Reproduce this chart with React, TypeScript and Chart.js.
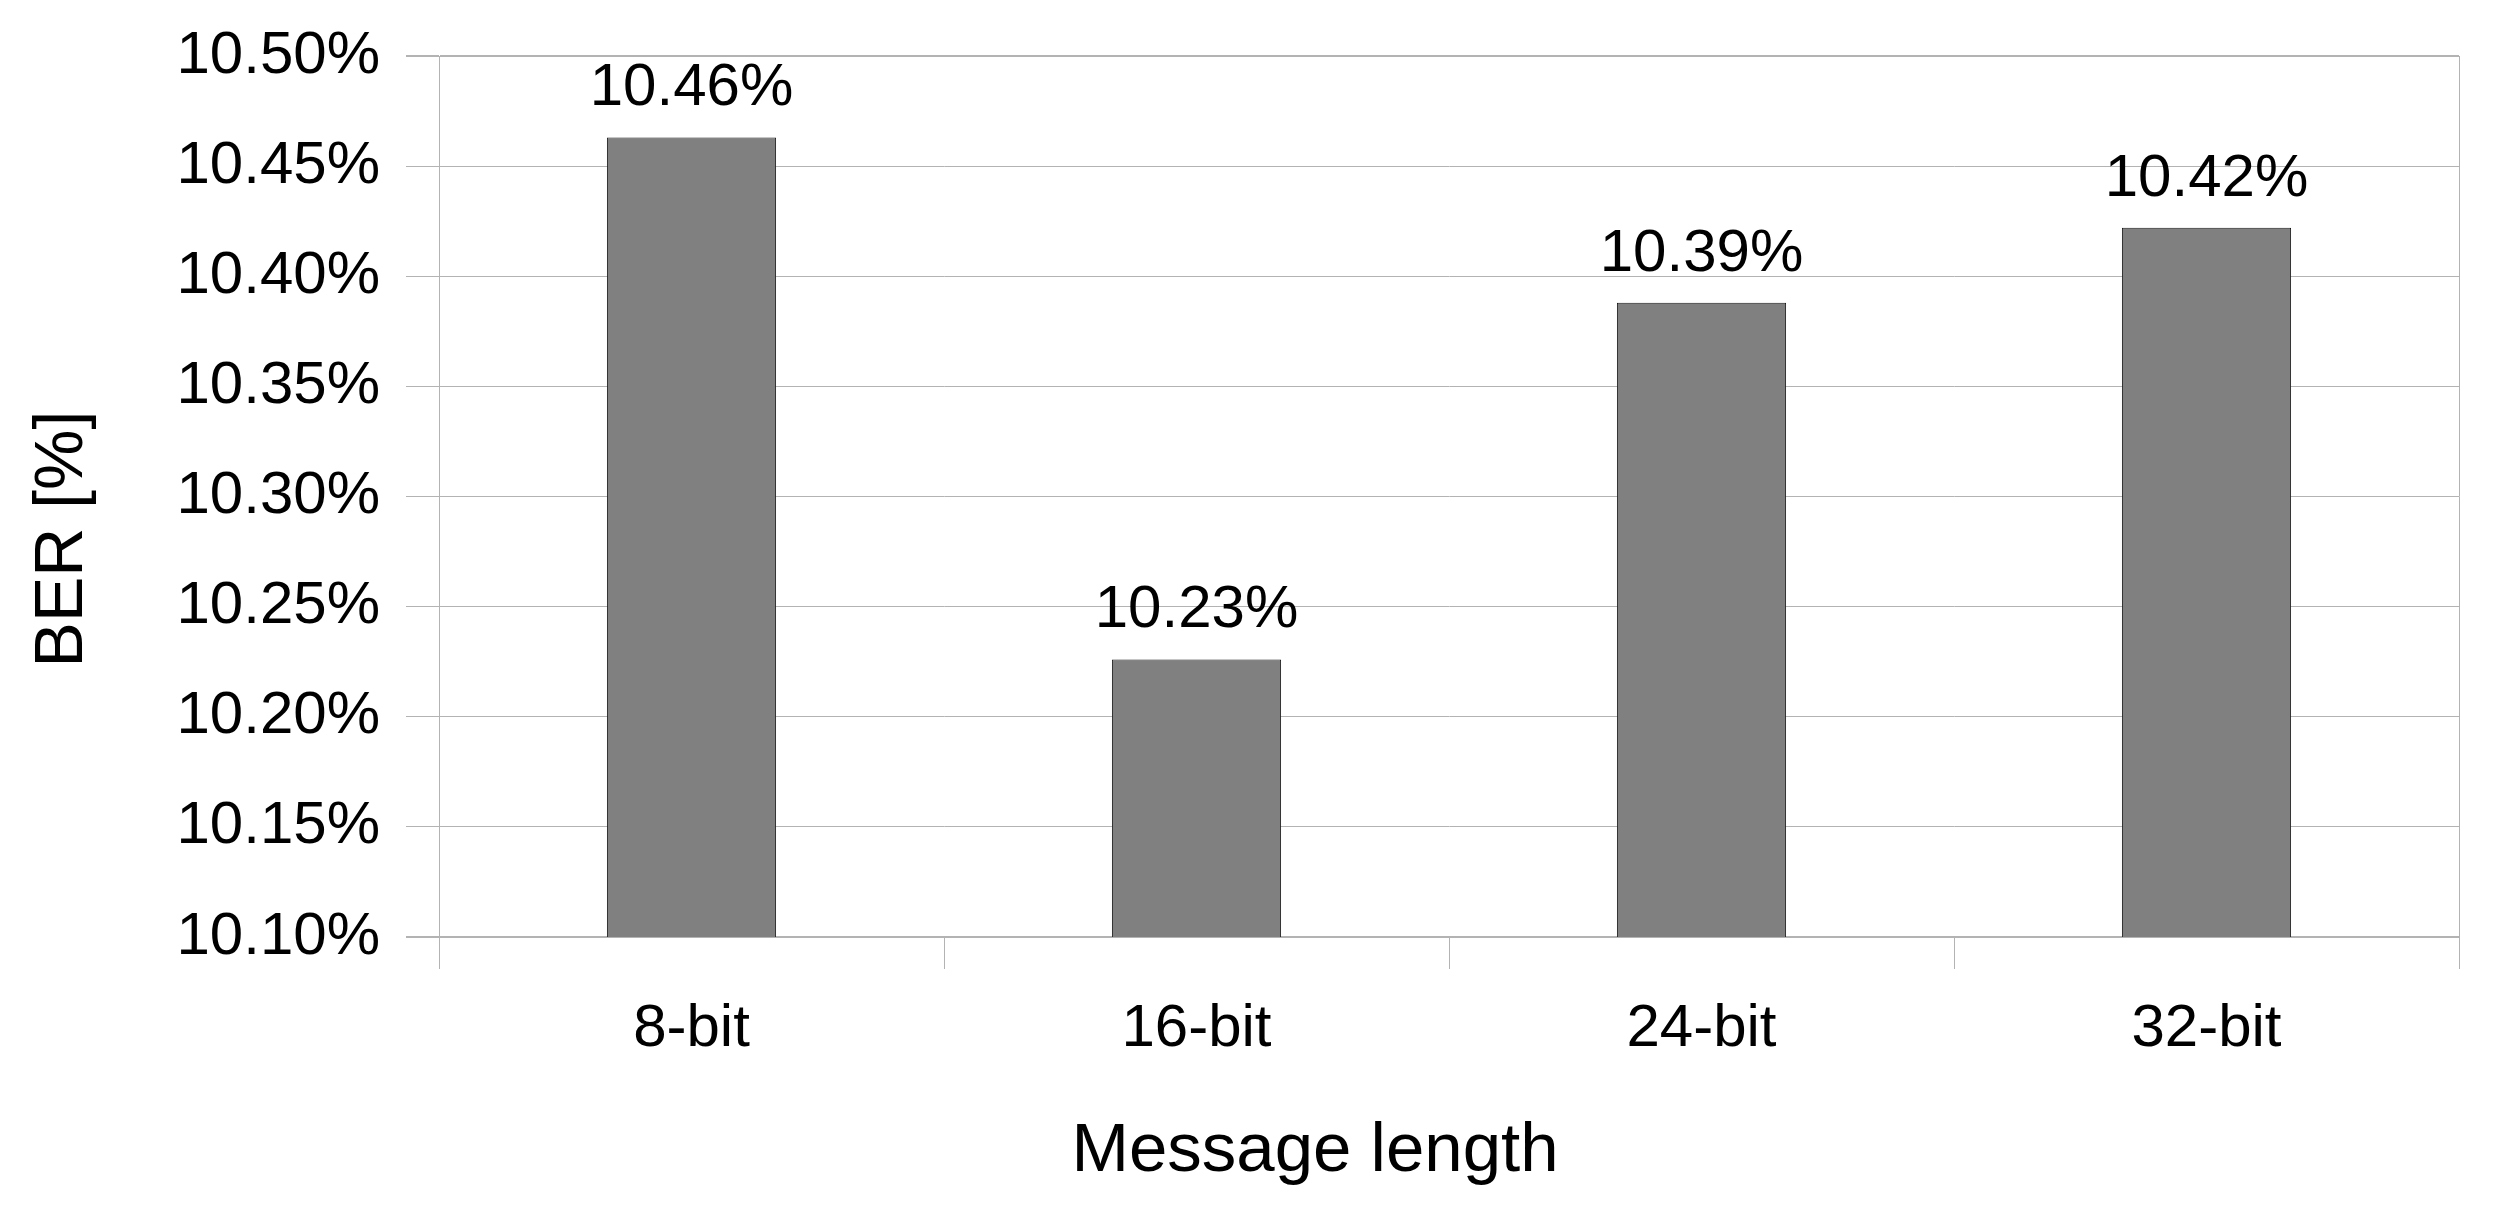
import React, { useEffect, useRef } from "react";
import { Chart, registerables } from "chart.js";

Chart.register(...registerables);

const categories = ["8-bit", "16-bit", "24-bit", "32-bit"];
const berValues = [10.463, 10.226, 10.388, 10.422];
const yMin = 10.1;
const yMax = 10.5;
const yStep = 0.05;
const xTitle = "Message length";
const yTitle = "BER [%]";

const FONT = "'Liberation Sans', Arial, sans-serif";
const GRID = "#b3b3b3";

const W = 2502;
const H = 1210;

export default function App() {
  const ref = useRef<HTMLCanvasElement | null>(null);

  useEffect(() => {
    if (!ref.current) return;

    const labelsPlugin = {
      id: "extras",
      afterDatasetsDraw(chart: any) {
        const ctx = chart.ctx;
        const meta = chart.getDatasetMeta(0);
        ctx.save();
        ctx.fillStyle = "#000";
        ctx.font = `60px ${FONT}`;
        ctx.textAlign = "center";
        ctx.textBaseline = "alphabetic";
        meta.data.forEach((bar: any, i: number) => {
          const v = chart.data.datasets[0].data[i] as number;
          ctx.fillText(v.toFixed(2) + "%", bar.x, bar.y - 32);
        });
        ctx.restore();
      },
      afterDraw(chart: any) {
        const ctx = chart.ctx;
        const a = chart.chartArea;
        ctx.save();
        // right border of plot
        ctx.strokeStyle = GRID;
        ctx.lineWidth = 1;
        ctx.beginPath();
        ctx.moveTo(Math.round(a.right) + 0.5, a.top);
        ctx.lineTo(Math.round(a.right) + 0.5, a.bottom);
        ctx.stroke();
        // axis titles
        ctx.fillStyle = "#000";
        ctx.font = `69px ${FONT}`;
        ctx.textAlign = "center";
        ctx.textBaseline = "alphabetic";
        ctx.fillText(xTitle, 1315, 1171);
        ctx.translate(82, 539);
        ctx.rotate(-Math.PI / 2);
        ctx.font = `68px ${FONT}`;
        ctx.fillText(yTitle, 0, 0);
        ctx.restore();
      },
    };

    const lastY = Math.round((yMax - yMin) / yStep);

    const chart = new Chart(ref.current, {
      type: "bar",
      data: {
        labels: categories,
        datasets: [
          {
            data: berValues,
            backgroundColor: "#808080",
            borderColor: "#1a1a1a",
            borderWidth: 1,
            borderSkipped: false,
            categoryPercentage: 1,
            barPercentage: 0.335,
          },
        ],
      },
      options: {
        responsive: false,
        animation: false,
        devicePixelRatio: 1,
        layout: { padding: { top: 56, right: 43, left: 0, bottom: 0 } },
        plugins: {
          legend: { display: false },
          tooltip: { enabled: false },
          title: { display: false },
        },
        scales: {
          x: {
            afterFit(scale: any) {
              scale.height = 273;
            },
            grid: {
              offset: true,
              drawOnChartArea: false,
              drawTicks: true,
              tickLength: 32,
              color: GRID,
              tickColor: GRID,
              lineWidth: 1,
            },
            border: { display: true, color: GRID, width: 2 },
            ticks: {
              color: "#000",
              font: { family: FONT, size: 60 },
              padding: 24,
              maxRotation: 0,
              autoSkip: false,
            },
          },
          y: {
            min: yMin,
            max: yMax,
            afterFit(scale: any) {
              scale.width = 439;
              scale.paddingTop = 0;
              scale.paddingBottom = 0;
            },
            grid: {
              color: GRID,
              tickColor: GRID,
              lineWidth: (c: any) => (c.index === 0 || c.index === lastY ? 2 : 1),
              drawTicks: true,
              tickLength: 33,
            },
            border: { display: true, color: GRID, width: 1 },
            ticks: {
              stepSize: yStep,
              color: "#000",
              font: { family: FONT, size: 60 },
              padding: 26,
              callback: (v: any) => Number(v).toFixed(2) + "%",
            },
          },
        },
      },
      plugins: [labelsPlugin],
    });

    return () => chart.destroy();
  }, []);

  return (
    <div style={{ position: "absolute", left: 0, top: 0, width: W, height: H, background: "#fff" }}>
      <canvas ref={ref} width={W} height={H} style={{ display: "block", width: W, height: H }} />
    </div>
  );
}
